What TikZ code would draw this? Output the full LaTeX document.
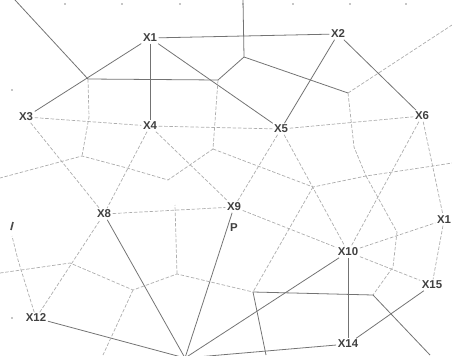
\documentclass[tikz,border=0pt]{standalone}
\usepackage{fontspec}
\setmainfont{Liberation Sans}
\usetikzlibrary{positioning,calc}

\begin{document}
\begin{tikzpicture}[x=0.02cm,y=-0.02cm,
    site/.style={font=\fontsize{6.5}{7}\selectfont\bfseries,text=black!75,inner sep=0.8pt},
    del/.style={draw=black!55,line width=0.45pt},
    vor/.style={draw=black!32,line width=0.4pt,dash pattern=on 2pt off 1pt},
    tickdot/.style={fill=black!45,circle,inner sep=0.35pt}]
  \useasboundingbox (0,0) rectangle (452,355);
  \clip (0,0) rectangle (452,355);
  % sites
  \foreach \n/\x/\y/\t in {x1/150/38/X1,x2/338/34/X2,x3/26/117/X3,x4/150/126/X4,
      x5/281/129/X5,x6/422/116/X6,x8/104/214/X8,x9/234/207/X9,x10/348/252/X10,
      x11/444/220/X1,x12/36/318/X12,x14/348/344/X14,x15/432/285/X15}{%
    \node[site] (\n) at (\x,\y) {\t};
  }
  \node[site] (p) at (234,228) {P};
  \coordinate (bt) at (185,358);
  % cell corners
  \coordinate (ta) at (15,0);   \coordinate (tb) at (243,0);  \coordinate (tc) at (452,25);
  \coordinate (va) at (88,79);  \coordinate (vb) at (218,80); \coordinate (vc) at (244,57);
  \coordinate (vd) at (348,93); \coordinate (vh) at (89,117); \coordinate (vi) at (213,149);
  \coordinate (vj) at (168,180);\coordinate (vl) at (127,168);\coordinate (vn) at (82,156);
  \coordinate (vk) at (313,187);\coordinate (vm) at (366,176);\coordinate (vo) at (433,166);
  \coordinate (vq) at (354,147);\coordinate (vr) at (397,232);\coordinate (vs) at (393,267);
  \coordinate (u1) at (70,263); \coordinate (u2) at (133,290);\coordinate (u3) at (177,274);
  \coordinate (u4) at (253,292);\coordinate (u5) at (373,295);
  % ticks
  \foreach \x in {65,122,180,243,293,350,406}
    \node[tickdot] (t\x) at (\x,4) {};
  \node[tickdot] (l1) at (12,90) {};
  \node[tickdot] (l2) at (12,318) {};
  \draw[black!70,line width=0.9pt] (11,230) -- (13,222);

  % triangulation
  \draw[del] (x1) -- (x2);
  \draw[del] (x1) -- (x4);
  \draw[del] (x1) -- (x3);
  \draw[del] (x1) -- (x5);
  \draw[del] (x2) -- (x5);
  \draw[del] (x2) -- (x6);
  \draw[del] (x10) -- (x14);
  \draw[del] (x14) -- (x15);
  \foreach \a in {x8,x9,x10,x12,x14}
    \draw[del] (\a) -- (bt);
  \foreach \a/\b in {x3/x4,x4/x5,x5/x6,x3/x8,x4/x8,x4/x9,x5/x9,x5/x10,x6/x10,
      x6/x11,x8/x9,x9/x10,x10/x15,x10/x11,x11/x15,x12/x8}
    \draw[vor] (\a) -- (\b);

  % cells
  \draw[del] (ta) -- (va) -- (vb) -- (vc) -- (tb);
  \draw[del] (vc) -- (vd);
  \draw[vor] (vd) -- (tc);
  \draw[vor] (vd) -- (vq) -- (vm);
  \draw[vor] (va) -- (vh) -- (vn);
  \draw[vor] (vb) -- (vi) -- (vj) -- (vl) -- (vn) -- (0,178);
  \draw[vor] (vi) -- (vk) -- (vm) -- (vo) -- (452,163);
  \draw[vor] (vm) -- (vr) -- (vs) -- (u5);
  \draw[vor] (vk) -- (u4);
  \draw[vor] (x12) -- (18,260) -- (12,236);
  \draw[vor] (0,273) -- (u1) -- (u2) -- (u3) -- (u4);
  \draw[vor] (u3) -- (175,205);
  \draw[vor] (u2) -- (103,355);
  \draw[del] (u4) -- (u5) -- (430,355);
  \draw[del] (u4) -- (266,355);
\end{tikzpicture}
\end{document}
